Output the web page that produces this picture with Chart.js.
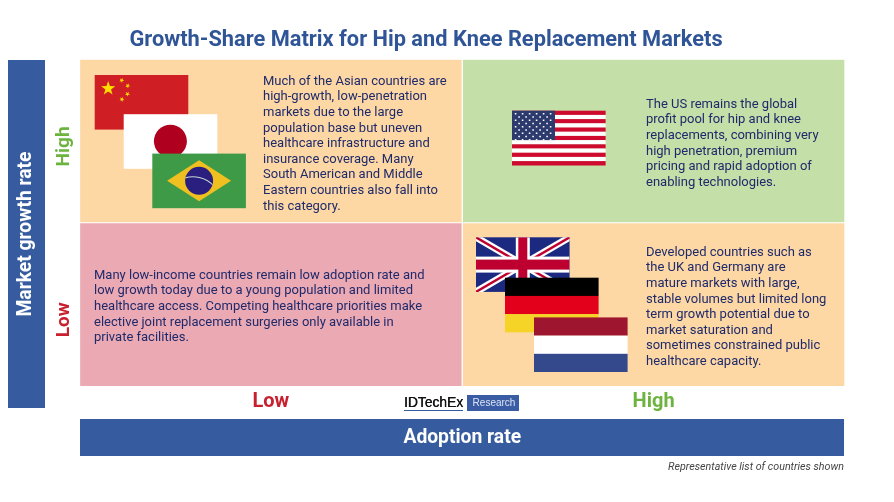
<!DOCTYPE html>
<html>
<head>
<meta charset="utf-8">
<style>html,body{margin:0;padding:0;background:#fff}#wrap{width:894px;height:502px}</style>
<script src="https://cdn.jsdelivr.net/npm/chart.js@4"></script>
</head>
<body>
<div id="wrap"><canvas id="c" width="894" height="502"></canvas></div>
<script>
const chartTitle = 'Growth-Share Matrix for Hip and Knee Replacement Markets';
const adoptionCategories = ['Low', 'High'];
const lowGrowthCells = [1, 1];
const highGrowthCells = [1, 1];
const lowGrowthColors = ['#EBA9B4', '#FDD8A5'];
const highGrowthColors = ['#FDD8A5', '#C5DFA8'];
const growthTickLabels = ['Low', 'High'];
const growthTickPositions = [0.405, 1.466];
const tickColors = { Low: '#C8202F', High: '#6DB33F' };
const xAxisTitle = 'Adoption rate';
const yAxisTitle = 'Market growth rate';
const footnote = 'Representative list of countries shown';
const textTopLeft = ['Much of the Asian countries are','high-growth, low-penetration','markets due to the large','population base but uneven','healthcare infrastructure and','insurance coverage. Many','South American and Middle','Eastern countries also fall into','this category.'];
const textTopRight = ['The US remains the global','profit pool for hip and knee','replacements, combining very','high penetration, premium','pricing and rapid adoption of','enabling technologies.'];
const textBottomLeft = ['Many low-income countries remain low adoption rate and','low growth today due to a young population and limited','healthcare access. Competing healthcare priorities make','elective joint replacement surgeries only available in','private facilities.'];
const textBottomRight = ['Developed countries such as','the UK and Germany are','mature markets with large,','stable volumes but limited long','term growth potential due to','market saturation and','sometimes constrained public','healthcare capacity.'];

const BAND = '#365C9F', NAVY = '#1F2A6B', FW = 93.6, FH = 54.6;

function star(g, cx, cy, r, rot) {
  g.beginPath();
  for (let i = 0; i < 10; i++) {
    const rr = i % 2 ? r * 0.4 : r, a = -Math.PI / 2 + rot + i * Math.PI / 5;
    g.lineTo(cx + rr * Math.cos(a), cy + rr * Math.sin(a));
  }
  g.closePath(); g.fill();
}
function rect(g, x, y, w, h, c) { g.fillStyle = c; g.fillRect(x, y, w, h); }
function china(g, x, y) {
  rect(g, x, y, FW, FH, '#CF1F25');
  g.fillStyle = '#FFDE00';
  star(g, x + 13.5, y + 13.5, 7.4, 0);
  [[27, 5.3], [33, 10.8], [32.8, 19], [27.2, 24.4]].forEach(p => star(g, x + p[0], y + p[1], 2.6, 0.5));
}
function japan(g, x, y) {
  rect(g, x, y, FW, FH, '#FFFFFF');
  g.fillStyle = '#B00020'; g.beginPath(); g.arc(x + 46.7, y + 27, 16.5, 0, 7); g.fill();
}
function brazil(g, x, y) {
  rect(g, x, y, FW, FH, '#3F9A48');
  const cx = x + 46.8, cy = y + 27.2;
  g.fillStyle = '#EFC01F'; g.beginPath();
  g.moveTo(cx - 32, cy); g.lineTo(cx, cy - 20.5); g.lineTo(cx + 32, cy); g.lineTo(cx, cy + 20.5); g.closePath(); g.fill();
  g.save(); g.beginPath(); g.arc(cx, cy, 14, 0, 7); g.fillStyle = '#2A1F7F'; g.fill(); g.clip();
  g.strokeStyle = '#C5D8D0'; g.lineWidth = 1.2; g.beginPath(); g.arc(cx - 6, cy + 24, 28, -2.0, -0.7); g.stroke();
  g.restore();
}
function usa(g, x, y) {
  const sh = FH / 13;
  for (let i = 0; i < 13; i++) rect(g, x, y + i * sh, FW, sh + 0.2, i % 2 ? '#FFFFFF' : '#CE0B2E');
  rect(g, x, y, 43, sh * 7, '#2D3A6E');
  g.fillStyle = '#FFFFFF';
  for (let r = 0; r < 9; r++) {
    const n = r % 2 ? 5 : 6;
    for (let k = 0; k < n; k++) g.fillRect(x + (r % 2 ? 6.3 : 2.8) + k * 7, y + 2.3 + r * 3.25, 1.6, 1.5);
  }
}
function uk(g, x, y) {
  rect(g, x, y, FW, FH, '#1B2A80');
  g.save(); g.beginPath(); g.rect(x, y, FW, FH); g.clip();
  const line = (x1, y1, x2, y2, w, c) => { g.strokeStyle = c; g.lineWidth = w; g.beginPath(); g.moveTo(x1, y1); g.lineTo(x2, y2); g.stroke(); };
  line(x, y, x + FW, y + FH, 7, '#FFFFFF');
  line(x + FW, y, x, y + FH, 7, '#FFFFFF');
  line(x, y, x + FW, y + FH, 2.4, '#BE0030');
  line(x + FW, y, x, y + FH, 2.4, '#BE0030');
  rect(g, x + FW / 2 - 7, y, 14, FH, '#FFFFFF');
  rect(g, x, y + FH / 2 - 8, FW, 16, '#FFFFFF');
  rect(g, x + FW / 2 - 4.5, y, 9, FH, '#BE0030');
  rect(g, x, y + FH / 2 - 5, FW, 10, '#BE0030');
  g.restore();
}
function tricolor(g, x, y, a, b, c) {
  rect(g, x, y, FW, FH / 3 + 0.2, a);
  rect(g, x, y + FH / 3, FW, FH / 3 + 0.2, b);
  rect(g, x, y + 2 * FH / 3, FW, FH / 3, c);
}
function para(g, lines, x, y) {
  g.font = '13px Roboto'; g.fillStyle = NAVY; g.textAlign = 'left'; g.textBaseline = 'middle';
  lines.forEach((t, i) => g.fillText(t, x, y + i * 15.6));
}

const matrixPlugin = {
  id: 'matrix',
  afterLayout(chart) {
    chart.titleBlock.left = 0; chart.titleBlock.right = 852;
  },
  beforeDraw(chart) {
    const g = chart.ctx;
    g.save();
    rect(g, 8, 60, 37, 348, BAND);
    rect(g, 80, 419, 764, 37, BAND);
    g.restore();
  },
  afterDatasetsDraw(chart) {
    const g = chart.ctx;
    g.save();
    china(g, 94.7, 75); japan(g, 123.7, 114.2); brazil(g, 152.3, 153.6);
    usa(g, 512, 110.7);
    uk(g, 476, 237.3);
    tricolor(g, 505, 277.7, '#000000', '#E2001A', '#F5D327');
    tricolor(g, 534, 317.4, '#9E1530', '#FFFFFF', '#34488C');
    para(g, textTopLeft, 263, 81.5);
    para(g, textTopRight, 646, 104.5);
    para(g, textBottomLeft, 94, 275.5);
    para(g, textBottomRight, 646, 252.5);

    // y band label
    g.save(); g.translate(26, 234); g.rotate(-Math.PI / 2);
    g.font = 'bold 19.3px Roboto'; g.fillStyle = '#FFFFFF'; g.textAlign = 'center'; g.textBaseline = 'middle';
    g.fillText(yAxisTitle, 0, 0); g.restore();

    // footnote
    g.font = 'italic 10.7px Roboto'; g.fillStyle = '#444444'; g.textAlign = 'right'; g.textBaseline = 'middle';
    g.fillText(footnote, 844, 467);

    // logo
    g.font = '13.8px "Liberation Sans"'; g.fillStyle = '#111111'; g.textAlign = 'left';
    g.fillText('IDTechEx', 404, 403);
    g.fillText('IDTechEx', 404.3, 403);
    rect(g, 404, 410, 59, 1, BAND);
    rect(g, 467, 395, 52, 16, '#3A5CA5');
    g.font = '10px "Liberation Sans"'; g.fillStyle = '#DDE5F3'; g.textAlign = 'center';
    g.fillText('Research', 494, 403.5);
    g.restore();
  }
};

new Chart(document.getElementById('c'), {
  type: 'bar',
  plugins: [matrixPlugin],
  data: {
    labels: adoptionCategories,
    datasets: [
      { label: 'Low growth', data: lowGrowthCells, backgroundColor: lowGrowthColors, borderColor: '#FFFFFF', borderWidth: 1 },
      { label: 'High growth', data: highGrowthCells, backgroundColor: highGrowthColors, borderColor: '#FFFFFF', borderWidth: 1 }
    ]
  },
  options: {
    responsive: false,
    animation: false,
    devicePixelRatio: 1,
    layout: { padding: { left: 0, right: 49, top: 0, bottom: 0 } },
    datasets: { bar: { categoryPercentage: 1, barPercentage: 1 } },
    plugins: {
      legend: { display: false },
      tooltip: { enabled: false },
      title: {
        display: true, text: chartTitle, color: '#2F5597',
        font: { family: 'Roboto', size: 21.8, weight: 'bold', lineHeight: 1.2 },
        padding: { top: 27, bottom: 6 }
      }
    },
    scales: {
      x: {
        type: 'category', stacked: true,
        grid: { display: false, drawTicks: false }, border: { display: false },
        ticks: {
          padding: 3.5, maxRotation: 0,
          color: ctx => tickColors[adoptionCategories[ctx.index]],
          font: { family: 'Roboto', size: 20, weight: 'bold' }
        },
        title: {
          display: true, text: xAxisTitle, color: '#FFFFFF',
          font: { family: 'Roboto', size: 19.3, weight: 'bold', lineHeight: 1.2 },
          padding: { top: 0, bottom: 52.5 }
        },
        afterFit(s) { s.height = 116; }
      },
      y: {
        type: 'linear', stacked: true, min: 0, max: 2,
        grid: { display: false, drawTicks: false }, border: { display: false },
        afterBuildTicks(s) { s.ticks = growthTickPositions.map(value => ({ value })); },
        ticks: {
          padding: -4.5, minRotation: 90, maxRotation: 90, crossAlign: 'center',
          callback: v => growthTickLabels[growthTickPositions.indexOf(v)],
          color: ctx => tickColors[growthTickLabels[growthTickPositions.indexOf(ctx.tick.value)]],
          font: { family: 'Roboto', size: 19, weight: 'bold' }
        },
        afterFit(s) { s.width = 79.5; }
      }
    }
  }
});
</script>
</body>
</html>
